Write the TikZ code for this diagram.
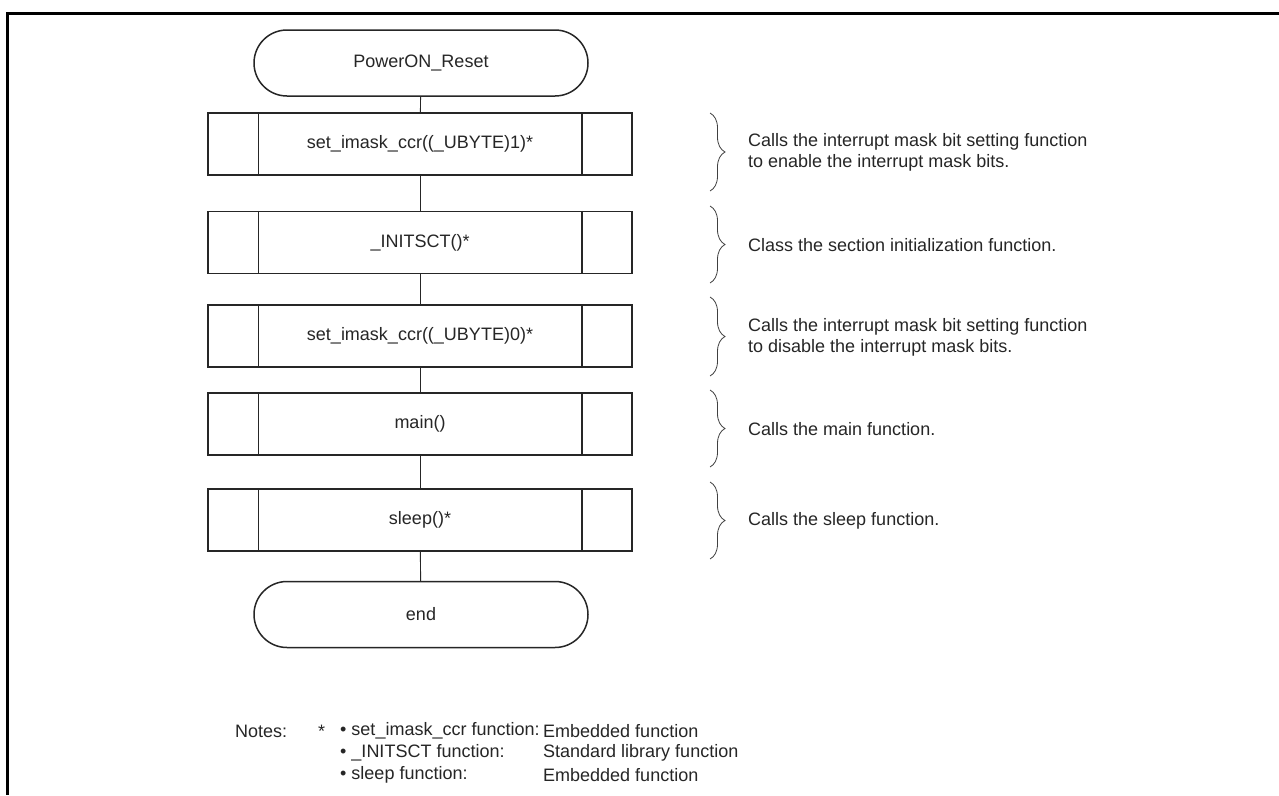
\documentclass[tikz,border=0pt]{standalone}
\usepackage{fontspec}
\setmainfont{Liberation Sans}
\usetikzlibrary{decorations.pathreplacing}
\begin{document}
\begin{tikzpicture}[x=1pt,y=1pt,
  every node/.style={font=\fontsize{18}{21}\selectfont, text=black!85},
  term/.style={draw=black!85, line width=1.5pt, rounded corners=33pt, minimum width=334pt, minimum height=66pt, inner sep=0pt},
  procbox/.style={draw=black!85, line width=1.5pt, minimum width=424pt, minimum height=62pt, inner sep=0pt},
  conn/.style={draw=black!85, line width=0.9pt},
  brc/.style={draw=black!75, line width=0.8pt, decorate, decoration={brace, amplitude=15pt}},
  note/.style={anchor=west, align=left, inner sep=0pt},
  frame/.style={draw=black, line width=3pt}
]
\useasboundingbox (0,0) rectangle (1279,-795);
\fill[white] (0,0) rectangle (1279,-795);
% frame
\coordinate (fTR) at (1279,-13);
\coordinate (fTL) at (7,-13);
\coordinate (fBL) at (7,-795);
\draw[frame] (fTR) -- (fTL) -- (fBL);

% flow nodes
\node[term] (start) at (421,-63) {PowerON\_Reset};
\node[procbox] (b1) at (420,-144) {set\_imask\_ccr((\_UBYTE)1)*};
\node[procbox] (b2) at (420,-242.5) {\_INITSCT()*};
\node[procbox] (b3) at (420,-336) {set\_imask\_ccr((\_UBYTE)0)*};
\node[procbox] (b4) at (420,-424) {main()};
\node[procbox] (b5) at (420,-520) {sleep()*};
\node[term] (end) at (421,-614.5) {end};

\foreach \b in {b1,b2,b3,b4,b5}{
  \draw[line width=1.5pt, black!85] ([xshift=51pt]\b.north west) -- ([xshift=51pt]\b.south west);
  \draw[line width=1.5pt, black!85] ([xshift=-51pt]\b.north east) -- ([xshift=-51pt]\b.south east);
}

\draw[conn] (start) -- (b1);
\draw[conn] (b1) -- (b2);
\draw[conn] (b2) -- (b3);
\draw[conn] (b3) -- (b4);
\draw[conn] (b4) -- (b5);
\draw[conn] (b5) -- (end);

% braces
\coordinate (r1t) at (710,-113); \coordinate (r1b) at (710,-191);
\coordinate (r2t) at (710,-206); \coordinate (r2b) at (710,-283);
\coordinate (r3t) at (710,-297); \coordinate (r3b) at (710,-376);
\coordinate (r4t) at (710,-390); \coordinate (r4b) at (710,-467);
\coordinate (r5t) at (710,-482); \coordinate (r5b) at (710,-559);
\draw[brc] (r1t) -- (r1b);
\draw[brc] (r2t) -- (r2b);
\draw[brc] (r3t) -- (r3b);
\draw[brc] (r4t) -- (r4b);
\draw[brc] (r5t) -- (r5b);

\node[note] (t1) at (748,-152) {Calls the interrupt mask bit setting function\\to enable the interrupt mask bits.};
\node[note] (t2) at (748,-245) {Class the section initialization function.};
\node[note] (t3) at (748,-337) {Calls the interrupt mask bit setting function\\to disable the interrupt mask bits.};
\node[note] (t4) at (748,-429) {Calls the main function.};
\node[note] (t5) at (748,-521) {Calls the sleep function.};

% notes
\node[note] (nl) at (235,-731) {Notes:};
\node[note] (ns) at (318,-731) {*};
\node[note] (n1) at (340,-731) {\textbullet\ set\_imask\_ccr function:};
\node[note] (n2) at (340,-753) {\textbullet\ \_INITSCT function:};
\node[note] (n3) at (340,-775) {\textbullet\ sleep function:};
\node[note] (d1) at (543,-731) {Embedded function};
\node[note] (d2) at (543,-753) {Standard library function};
\node[note] (d3) at (543,-775) {Embedded function};
\end{tikzpicture}
\end{document}
